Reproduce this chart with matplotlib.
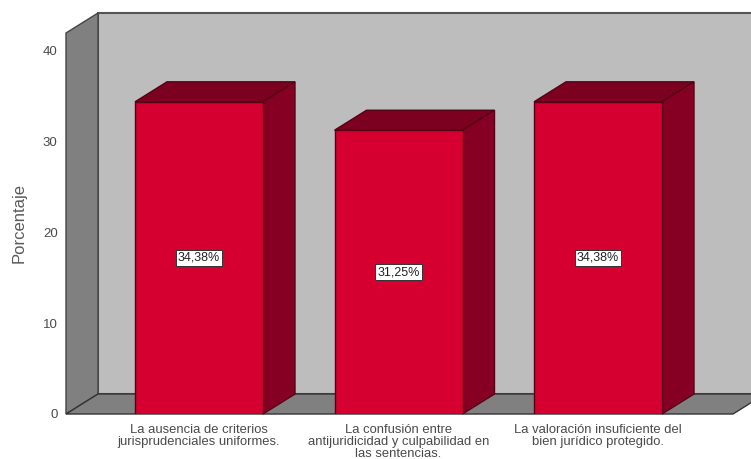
import numpy as np
from matplotlib import pyplot as plt
from matplotlib.patches import Polygon

categories = [
    "La ausencia de criterios\njurisprudenciales uniformes.",
    "La confusión entre\nantijuridicidad y culpabilidad en\nlas sentencias.",
    "La valoración insuficiente del\nbien jurídico protegido.",
]
porcentajes = [34.38, 31.25, 34.38]
etiquetas = ["34,38%", "31,25%", "34,38%"]
yticks = [0, 10, 20, 30, 40]

W, H = 751, 459
X_LEFT, X_RIGHT = 66, 751
Y_BOTTOM, Y_TOP = 414, 13
PX_PER_CAT = 199.5
PX_PER_UNIT = 9.08
DX = 32 / PX_PER_CAT   # fake 3D depth
DY = 20 / PX_PER_UNIT
BAR_W = 128 / PX_PER_CAT

RED = "#d5002f"
RED_DARK = "#7c0020"
RED_SIDE = "#860023"
EDGE = "#560016"
WALL = "#bdbdbd"
SIDE = "#808080"
TEXT = "#4a4a4a"

plt.rcParams["font.family"] = ["Liberation Sans", "DejaVu Sans"]

fig = plt.figure(figsize=(W / 100, H / 100), dpi=100)
ax = fig.add_axes([X_LEFT / W, 1 - Y_BOTTOM / H, (X_RIGHT - X_LEFT) / W, (Y_BOTTOM - Y_TOP) / H])
x0 = (X_LEFT - 199) / PX_PER_CAT
x1 = (X_RIGHT - 199) / PX_PER_CAT
ytop = (Y_BOTTOM - Y_TOP) / PX_PER_UNIT
ax.set_xlim(x0, x1)
ax.set_ylim(0, ytop)
ax.patch.set_visible(False)
for s in ax.spines.values():
    s.set_visible(False)


def poly(pts, fc, ec=EDGE, lw=1.0, z=2):
    ax.add_patch(Polygon(pts, closed=True, fc=fc, ec=ec, lw=lw, zorder=z, clip_on=False, joinstyle="miter"))


# walls and floor
poly([(x0 + DX, DY), (x1 + DX, DY), (x1 + DX, ytop), (x0 + DX, ytop)], WALL, ec="#555555", lw=1.5, z=1)
poly([(x0, 0), (x0 + DX, DY), (x0 + DX, ytop), (x0, ytop - DY)], SIDE, ec="#444444", z=1.5)
poly([(x0, 0), (x1 - 18 / PX_PER_CAT, 0), (x1 + 14 / PX_PER_CAT, DY), (x0 + DX, DY)], SIDE, ec="#333333", z=1.5)

for i, v in enumerate(porcentajes):
    l, r = i - BAR_W / 2, i + BAR_W / 2
    poly([(l, v), (r, v), (r + DX, v + DY), (l + DX, v + DY)], RED_DARK, z=3)
    poly([(r, 0), (r + DX, DY), (r + DX, v + DY), (r, v)], RED_SIDE, z=3)
    ax.bar(i, v, width=BAR_W, color=RED, edgecolor=EDGE, linewidth=1.0, zorder=4)
    ax.text(i, v / 2, etiquetas[i], ha="center", va="center", fontsize=9, color="#222222", zorder=5,
            bbox=dict(boxstyle="square,pad=0.15", fc="white", ec="#333333", lw=0.7))

ax.set_yticks(yticks)
ax.set_xticks(range(len(categories)))
ax.set_xticklabels(categories, fontsize=9.4, color=TEXT, linespacing=1.0)
ax.tick_params(axis="x", length=0, pad=7)
ax.tick_params(axis="y", length=0, pad=6, labelsize=9.5, labelcolor=TEXT)
fig.text(19 / W, 1 - 223 / H, "Porcentaje", rotation=90, ha="center", va="center", fontsize=12, color="#5a5a5a")

fig.savefig("out.png", dpi=100)
